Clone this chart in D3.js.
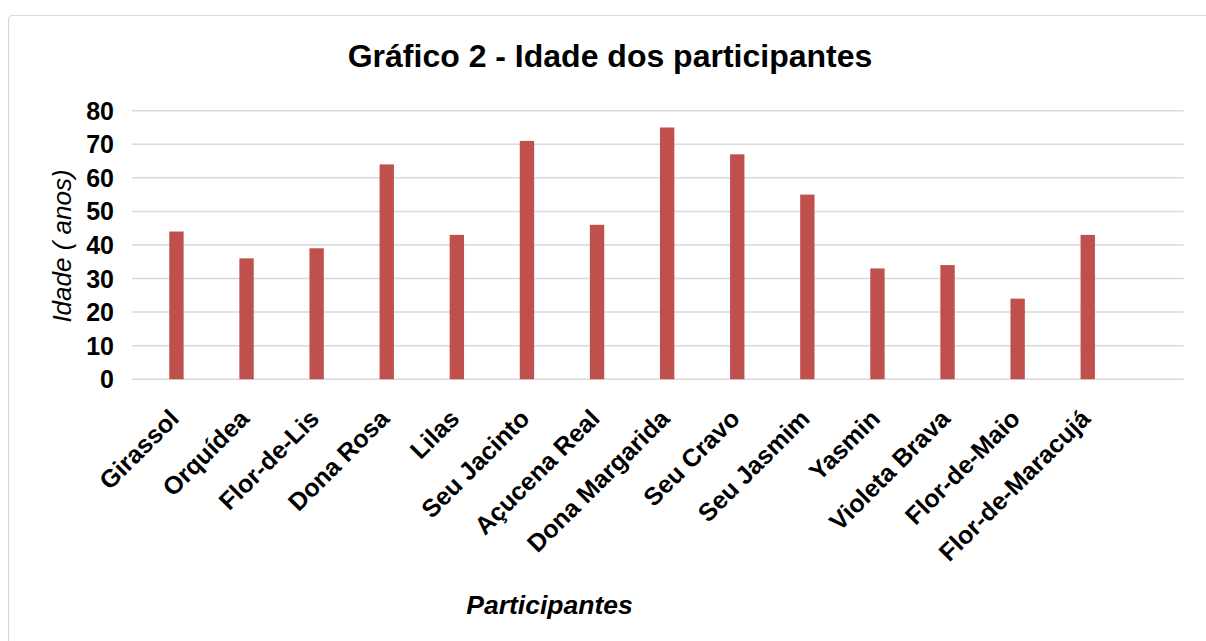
<!DOCTYPE html>
<html>
<head>
<meta charset="utf-8">
<script src="https://cdn.jsdelivr.net/npm/d3@7"></script>
<style>
  html, body { margin: 0; padding: 0; background: #ffffff; }
  svg { display: block; font-family: "Liberation Sans", Arial, sans-serif; }
</style>
</head>
<body>
<svg id="chart" width="1206" height="641"></svg>
<script>
const title = "Gráfico 2 - Idade dos participantes";
const yAxisTitle = "Idade ( anos)";
const xAxisTitle = "Participantes";
const categories = ["Girassol", "Orquídea", "Flor-de-Lis", "Dona Rosa", "Lilas", "Seu Jacinto",
  "Açucena Real", "Dona Margarida", "Seu Cravo", "Seu Jasmim", "Yasmin", "Violeta Brava",
  "Flor-de-Maio", "Flor-de-Maracujá"];
const ages = [44, 36, 39, 64, 43, 71, 46, 75, 67, 55, 33, 34, 24, 43];
const yTicks = [0, 10, 20, 30, 40, 50, 60, 70, 80];

const svg = d3.select("#chart");
const W = 1206, H = 641;

// chart frame
svg.append("rect")
  .attr("x", 8.5).attr("y", 15.5)
  .attr("width", W + 10).attr("height", H + 10)
  .attr("rx", 4)
  .attr("fill", "#ffffff")
  .attr("stroke", "#d9d9d9")
  .attr("stroke-width", 1.2);

const plot = { left: 132, right: 1183.5, top: 110.7, bottom: 379.2 };
const band = (plot.right - plot.left) / 15;

const x = d3.scaleBand()
  .domain(categories)
  .range([plot.left + 9.4, plot.left + 9.4 + band * categories.length])
  .paddingInner(0.795)
  .paddingOuter(0.3975);

const y = d3.scaleLinear().domain([0, 80]).range([plot.bottom, plot.top]);

// gridlines
svg.append("g")
  .selectAll("line")
  .data(yTicks)
  .join("line")
  .attr("x1", plot.left).attr("x2", plot.right)
  .attr("y1", d => y(d)).attr("y2", d => y(d))
  .attr("stroke", "#d9d9d9")
  .attr("stroke-width", 1.5);

// y tick labels
svg.append("g")
  .selectAll("text")
  .data(yTicks)
  .join("text")
  .attr("x", 114)
  .attr("y", d => y(d))
  .attr("dy", "0.36em")
  .attr("text-anchor", "end")
  .attr("font-size", 25)
  .attr("font-weight", "bold")
  .attr("fill", "#000")
  .text(d => d);

// bars
svg.append("g")
  .selectAll("rect")
  .data(categories.map((c, i) => ({ c, v: ages[i] })))
  .join("rect")
  .attr("x", d => x(d.c))
  .attr("width", x.bandwidth())
  .attr("y", d => y(d.v))
  .attr("height", d => y(0) - y(d.v))
  .attr("fill", "#C0504D");

// x labels
svg.append("g")
  .selectAll("text")
  .data(categories)
  .join("text")
  .attr("transform", d => `translate(${x(d) + x.bandwidth() / 2 + 4},${plot.bottom + 41}) rotate(-45)`)
  .attr("text-anchor", "end")
  .attr("font-size", 25)
  .attr("font-weight", "bold")
  .attr("fill", "#000")
  .text(d => d);

// title
svg.append("text")
  .attr("x", 610).attr("y", 67)
  .attr("text-anchor", "middle")
  .attr("font-size", 32)
  .attr("font-weight", "bold")
  .attr("fill", "#000")
  .text(title);

// y axis title
svg.append("text")
  .attr("transform", `translate(71,246) rotate(-90)`)
  .attr("text-anchor", "middle")
  .attr("font-size", 26)
  .attr("font-style", "italic")
  .attr("fill", "#000")
  .text(yAxisTitle);

// x axis title
svg.append("text")
  .attr("x", 549.5).attr("y", 614)
  .attr("text-anchor", "middle")
  .attr("font-size", 26.5)
  .attr("font-weight", "bold")
  .attr("font-style", "italic")
  .attr("fill", "#000")
  .text(xAxisTitle);
</script>
</body>
</html>
